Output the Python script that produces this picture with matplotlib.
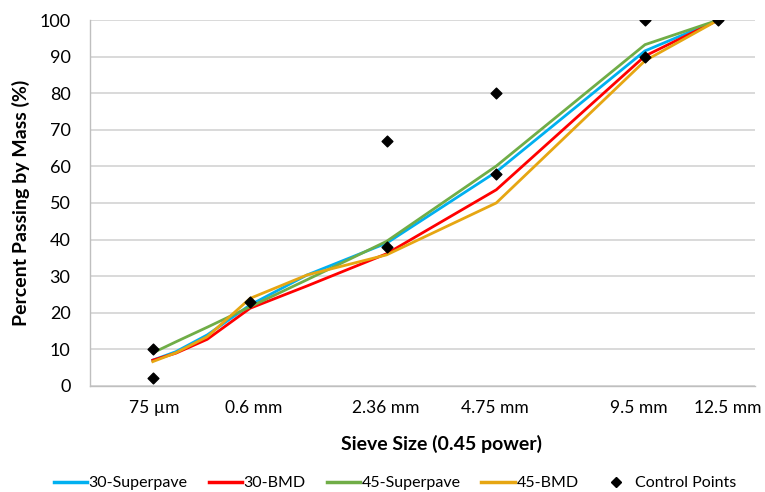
import numpy as np
import matplotlib
matplotlib.use("Agg")
import matplotlib.pyplot as plt
from matplotlib.lines import Line2D
from matplotlib.transforms import ScaledTranslation

plt.rcParams['font.family'] = ['Lato', 'DejaVu Sans']

sieves_mm = [0.075, 0.15, 0.3, 0.6, 1.18, 2.36, 4.75, 9.5, 12.5]
s30_superpave = [7.0, 9.3, 13.9, 22.1, 30.3, 39.0, 58.5, 91.6, 100]
s30_bmd = [7.0, 8.9, 12.7, 21.2, 27.3, 36.1, 53.6, 90.2, 100]
s45_superpave = [9.0, 12.0, 16.0, 21.6, 29.0, 39.5, 60.1, 93.3, 100]
s45_bmd = [6.6, 9.0, 13.4, 23.9, 30.3, 35.8, 50.0, 88.9, 100]

ctrl_mm = [0.075, 0.075, 0.6, 2.36, 2.36, 4.75, 4.75, 9.5, 9.5, 12.5]
ctrl_val = [2, 10, 23, 38, 67, 58, 80, 90, 100, 100]

tick_mm = [0.075, 0.6, 2.36, 4.75, 9.5, 12.5]
tick_labels = ['75 µm', '0.6 mm', '2.36 mm', '4.75 mm', '9.5 mm', '12.5 mm']
label_nudge_px = [1, 4, -1, -1, -6, 10]

p = 0.45
x = np.array(sieves_mm) ** p

fig = plt.figure(figsize=(7.65, 4.92), dpi=100)
ax = fig.add_axes([90 / 765, 0.216, 665 / 765, 0.743])

series = [
    ('30-Superpave', s30_superpave, '#00B0F0'),
    ('30-BMD', s30_bmd, '#FF0000'),
    ('45-Superpave', s45_superpave, '#70AD47'),
    ('45-BMD', s45_bmd, '#E6A612'),
]
handles = []
for name, vals, col in series:
    ax.plot(x, vals, color=col, lw=2.0, solid_joinstyle='round', zorder=3)
    handles.append(Line2D([], [], color=col, lw=2.5, label=name))

ax.scatter(np.array(ctrl_mm) ** p, ctrl_val, marker='D', s=30, color='black', zorder=4)
handles.append(Line2D([], [], marker='D', color='black', lw=0, markersize=5, label='Control Points'))

ax.set_xlim(0, 3.30)
ax.set_ylim(0, 100)
ax.set_yticks(range(0, 101, 10))
ax.set_xticks(np.array(tick_mm) ** p)
ax.set_xticklabels(tick_labels)
ax.yaxis.grid(True, color='#D9D9D9', lw=1.4)
ax.set_axisbelow(True)
ax.tick_params(axis='x', length=0, labelsize=12.5, colors='#000000', pad=10)
ax.tick_params(axis='y', length=0, labelsize=13.0, colors='#000000', pad=14)
for sp in ['top', 'right']:
    ax.spines[sp].set_visible(False)
for sp in ['left', 'bottom']:
    ax.spines[sp].set_color('#BFBFBF')
    ax.spines[sp].set_linewidth(1.0)

for lbl, dx in zip(ax.get_xticklabels(), label_nudge_px):
    lbl.set_transform(lbl.get_transform() + ScaledTranslation(dx / 100, 0, fig.dpi_scale_trans))

ax.set_xlabel('Sieve Size (0.45 power)', fontsize=14.0, fontweight='bold', labelpad=12)
ax.xaxis.set_label_coords((442 - 90) / 665, -0.135)
ax.set_ylabel('Percent Passing by Mass (%)', fontsize=14.0, fontweight='bold', labelpad=7)

fig.legend(handles=handles, loc='center', bbox_to_anchor=(0.516, 0.018), ncol=5,
           frameon=False, fontsize=11.5, handlelength=2.1, handletextpad=0.1, columnspacing=1.3,
           borderpad=0)

fig.savefig('out.png', dpi=100)
